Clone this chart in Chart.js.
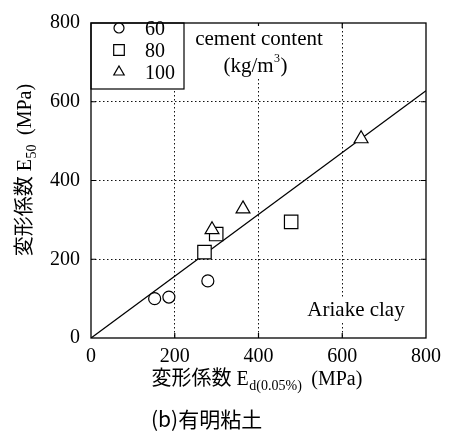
<!DOCTYPE html>
<html>
<head>
<meta charset="utf-8">
<script src="https://cdn.jsdelivr.net/npm/chart.js@4/dist/chart.umd.min.js"></script>
<style>
html,body{margin:0;padding:0;background:#fff;}
#wrap{width:449px;height:431px;position:relative;}
</style>
</head>
<body>
<div id="wrap"><canvas id="c" width="449" height="431"></canvas></div>
<script>
// ---- data ----
const seriesLabels = ['60', '80', '100'];
const circleX = [152, 186, 279];
const circleY = [100, 104, 145];
const squareX = [271, 299, 478];
const squareY = [218, 264, 295];
const triX = [289, 363, 645];
const triY = [275, 328, 506];
const fitX = [0, 800];
const fitY = [0, 628];
const tickValues = [0, 200, 400, 600, 800];
const xTitleMain = '変形係数 E';
const xTitleSub = 'd(0.05%)';
const xTitleEnd = '(MPa)';
const yTitleMain = '変形係数 E';
const yTitleSub = '50';
const yTitleEnd = '(MPa)';
const caption = '(b)有明粘土';
const noteLine1 = 'cement content';
const noteLine2 = '(kg/m';
const noteSup = '3';
const noteLine2End = ')';
const clayLabel = 'Ariake clay';

const pts = (xs, ys) => xs.map((x, i) => ({x: x, y: ys[i]}));
const SERIF = '"Liberation Serif", "Noto Sans CJK JP", serif';
const SANS = '"Noto Sans CJK JP", "Liberation Sans", sans-serif';

const markerStyles = ['circle', 'rect', 'triangle'];

function drawSubTitle(ctx, main, sub, end, cx, by) {
  ctx.font = '20px ' + SERIF;
  const m1 = ctx.measureText(main).width;
  ctx.font = '14px ' + SERIF;
  const m2 = ctx.measureText(sub).width;
  ctx.font = '20px ' + SERIF;
  const m3 = ctx.measureText(end).width;
  const gap = 10;
  const x0 = cx - (m1 + m2 + gap + m3) / 2;
  ctx.fillText(main, x0, by);
  ctx.font = '14px ' + SERIF;
  ctx.fillText(sub, x0 + m1 + 0.5, by + 5);
  ctx.font = '20px ' + SERIF;
  ctx.fillText(end, x0 + m1 + m2 + gap, by);
}

const decor = {
  id: 'decor',
  beforeDatasetsDraw(chart) {
    const ctx = chart.ctx;
    const a = chart.chartArea;
    const xs = chart.scales.x, ys = chart.scales.y;
    ctx.save();
    // inward tick marks
    ctx.strokeStyle = '#000';
    ctx.lineWidth = 1.2;
    ctx.beginPath();
    tickValues.slice(1, -1).forEach(v => {
      const px = xs.getPixelForValue(v);
      const py = ys.getPixelForValue(v);
      ctx.moveTo(px, a.bottom); ctx.lineTo(px, a.bottom - 5);
      ctx.moveTo(px, a.top); ctx.lineTo(px, a.top + 5);
      ctx.moveTo(a.left, py); ctx.lineTo(a.left + 5, py);
      ctx.moveTo(a.right, py); ctx.lineTo(a.right - 5, py);
    });
    ctx.stroke();

    // notes with white background
    ctx.font = '21px ' + SERIF;
    ctx.textBaseline = 'alphabetic';
    const w1 = ctx.measureText(noteLine1).width;
    ctx.fillStyle = '#fff';
    ctx.fillRect(259 - w1 / 2 - 3, 26, w1 + 6, 52);
    ctx.fillStyle = '#000';
    ctx.textAlign = 'center';
    ctx.fillText(noteLine1, 259, 45);
    // (kg/m3)
    ctx.textAlign = 'left';
    const wa = ctx.measureText(noteLine2).width;
    ctx.font = '12px ' + SERIF;
    const wb = ctx.measureText(noteSup).width;
    ctx.font = '21px ' + SERIF;
    const wc = ctx.measureText(noteLine2End).width;
    let sx = 255 - (wa + wb + wc) / 2;
    ctx.fillText(noteLine2, sx, 72);
    ctx.font = '12px ' + SERIF;
    ctx.fillText(noteSup, sx + wa + 0.5, 62);
    ctx.font = '21px ' + SERIF;
    ctx.fillText(noteLine2End, sx + wa + wb + 1, 72);

    // Ariake clay
    const w2 = ctx.measureText(clayLabel).width;
    ctx.fillStyle = '#fff';
    ctx.fillRect(356 - w2 / 2 - 3, 298, w2 + 6, 24);
    ctx.fillStyle = '#000';
    ctx.textAlign = 'center';
    ctx.fillText(clayLabel, 356, 316);

    // legend box
    ctx.fillStyle = '#fff';
    ctx.fillRect(a.left, a.top, 184 - a.left, 89 - a.top);
    ctx.strokeStyle = '#000';
    ctx.lineWidth = 1.2;
    ctx.strokeRect(a.left, a.top, 184 - a.left, 89 - a.top);
    const rows = [28, 50, 72];
    chart.data.datasets.slice(0, 3).forEach((ds, i) => {
      const cy = rows[i];
      ctx.strokeStyle = '#000';
      ctx.fillStyle = '#fff';
      ctx.lineWidth = 1.2;
      Chart.helpers.drawPoint(ctx, {pointStyle: markerStyles[i], radius: [5, 7.5, 6][i], borderWidth: 1.2}, 119, cy);
      ctx.fillStyle = '#000';
      ctx.font = '20px ' + SERIF;
      ctx.textAlign = 'left';
      ctx.textBaseline = 'alphabetic';
      ctx.fillText(ds.label, 145, cy + 7);
    });

    // frame
    ctx.strokeStyle = '#000';
    ctx.lineWidth = 1.3;
    ctx.strokeRect(a.left, a.top, a.right - a.left, a.bottom - a.top);
    ctx.restore();
  },
  afterDraw(chart) {
    const ctx = chart.ctx;
    const a = chart.chartArea;
    ctx.save();
    ctx.fillStyle = '#000';
    ctx.textBaseline = 'alphabetic';
    ctx.textAlign = 'left';
    // x title
    drawSubTitle(ctx, xTitleMain, xTitleSub, xTitleEnd, 257, 385);

    // y title (rotated)
    ctx.save();
    ctx.translate(31, 170);
    ctx.rotate(-Math.PI / 2);
    drawSubTitle(ctx, yTitleMain, yTitleSub, yTitleEnd, 0, 0);
    ctx.restore();

    // caption
    ctx.font = '21px ' + SANS;
    ctx.textAlign = 'left';
    ctx.fillText(caption, 151, 427);
    ctx.restore();
  }
};

const gridColor = (c) => (c.tick && (c.tick.value === 0 || c.tick.value === 800)) ? 'rgba(0,0,0,0)' : '#111';

new Chart(document.getElementById('c'), {
  type: 'scatter',
  data: {
    datasets: [
      {label: seriesLabels[0], data: pts(circleX, circleY), pointStyle: 'circle', pointRadius: 6, pointHoverRadius: 6, borderColor: '#000', backgroundColor: '#fff', borderWidth: 1.2, order: 1},
      {label: seriesLabels[1], data: pts(squareX, squareY), pointStyle: 'rect', pointRadius: 9.5, pointHoverRadius: 9.5, borderColor: '#000', backgroundColor: '#fff', borderWidth: 1.2, order: 1},
      {label: seriesLabels[2], data: pts(triX, triY), pointStyle: 'triangle', pointRadius: 8, pointHoverRadius: 8, borderColor: '#000', backgroundColor: '#fff', borderWidth: 1.2, order: 0},
      {label: 'fit', type: 'line', data: pts(fitX, fitY), showLine: true, pointRadius: 0, borderColor: '#000', borderWidth: 1.3, fill: false, order: 5}
    ]
  },
  options: {
    responsive: false,
    animation: false,
    devicePixelRatio: 1,
    layout: {padding: {left: 0, top: 10, right: 23, bottom: 0}},
    plugins: {legend: {display: false}, tooltip: {enabled: false}, title: {display: false}},
    scales: {
      x: {
        type: 'linear', min: 0, max: 800,
        afterFit: (s) => { s.height = 93; },
        ticks: {stepSize: 200, padding: 7, color: '#000', font: {family: SERIF, size: 20}, maxRotation: 0},
        grid: {drawTicks: false, color: gridColor, lineWidth: 1},
        border: {display: false, dash: [1.5, 2.5]}
      },
      y: {
        type: 'linear', min: 0, max: 800,
        afterFit: (s) => { s.width = 91; },
        ticks: {stepSize: 200, padding: 11, color: '#000', font: {family: SERIF, size: 20}},
        grid: {drawTicks: false, color: gridColor, lineWidth: 1},
        border: {display: false, dash: [1.5, 2.5]}
      }
    }
  },
  plugins: [decor]
});
</script>
</body>
</html>
